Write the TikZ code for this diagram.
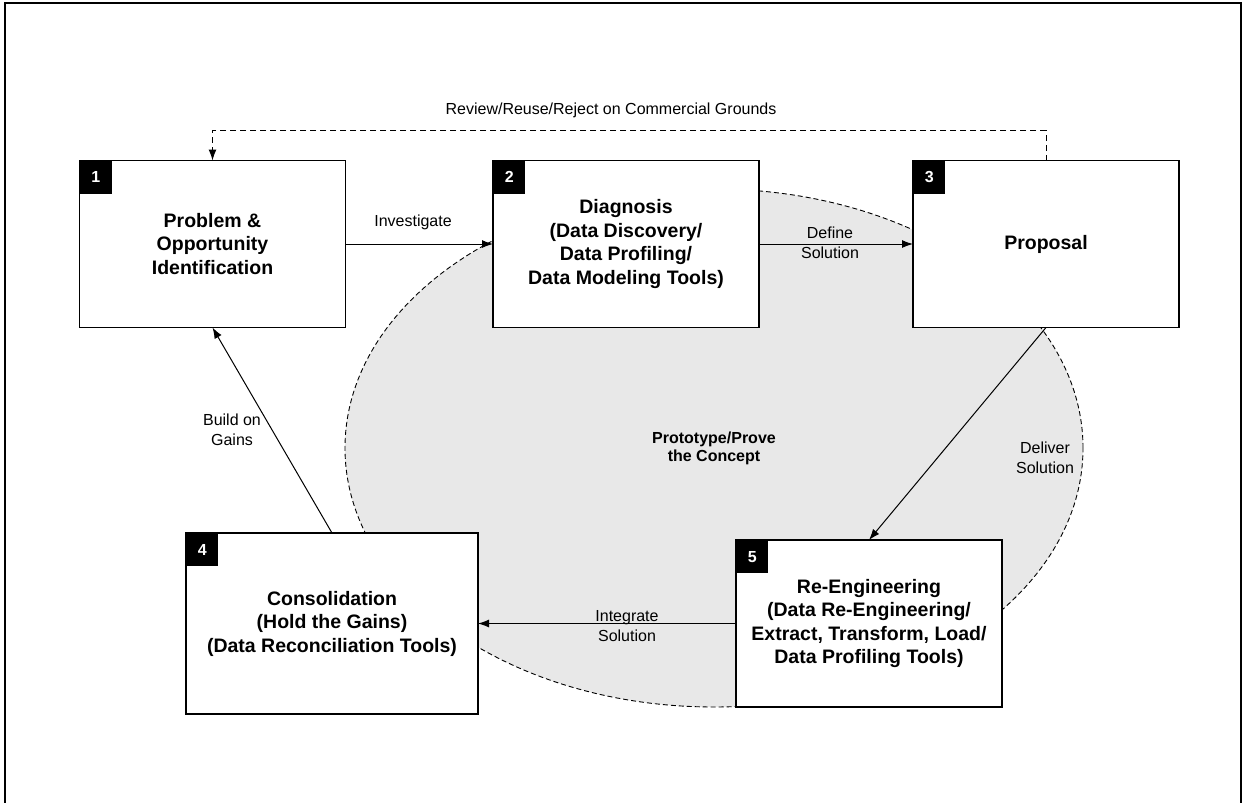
\documentclass[tikz,border=0pt]{standalone}
\usepackage{fontspec}
\setmainfont{Liberation Sans}
\usetikzlibrary{shapes.geometric,arrows.meta}
\definecolor{protogray}{RGB}{232,232,232}

\begin{document}
\begin{tikzpicture}[x=1pt,y=-1pt,
  stagebox/.style={draw, line width=1.3pt, fill=white, outer sep=0pt, inner sep=0pt,
    minimum width=266pt, minimum height=167pt, align=center,
    font=\bfseries\fontsize{19.5}{23.5}\selectfont},
  numbox/.style={fill=black, text=white, anchor=north west, inner sep=0pt,
    minimum width=32pt, minimum height=33pt, font=\bfseries\fontsize{16}{16}\selectfont},
  lbl/.style={align=center, font=\fontsize{16}{20}\selectfont},
  flow/.style={line width=1pt, -{Latex[length=11pt,width=8pt]}},
  proto/.style={ellipse, draw, dashed, dash pattern=on 5pt off 3pt, line width=0.9pt,
    fill=protogray, inner sep=0pt, minimum width=738pt, minimum height=518pt,
    align=center, font=\bfseries\fontsize{16}{18}\selectfont}]
\useasboundingbox (0,0) rectangle (1245,803);
%-------->frame<--------------
\draw[line width=2.6pt] (5,806) -- (5,3) -- (1241,3) -- (1241,806);
%-------->prototype area<--------------
\node[proto] (proto) at (714,448) {Prototype/Prove\\the Concept};
%-------->stages<--------------
\node[stagebox] (prob) at (212.5,244) {Problem \&\\Opportunity\\Identification}; % 1
\node[stagebox] (diag) at (626,244) {Diagnosis\\(Data Discovery/\\Data Profiling/\\Data Modeling Tools)}; % 2
\node[stagebox] (prop) at (1046,244) {Proposal}; % 3
\node[stagebox, minimum width=292pt, minimum height=181pt] (cons) at (332,623.5) {Consolidation\\(Hold the Gains)\\(Data Reconciliation Tools)}; % 4
\node[stagebox] (reeng) at (869,623.5) {Re-Engineering\\(Data Re-Engineering/\\Extract, Transform, Load/\\Data Profiling Tools)}; % 5
%-------->numbers<--------------
\node[numbox] (n1) at (prob.north west) {1};
\node[numbox] (n2) at (diag.north west) {2};
\node[numbox] (n3) at (prop.north west) {3};
\node[numbox] (n4) at (cons.north west) {4};
\node[numbox] (n5) at (reeng.north west) {5};
%-------->arrows<--------------
\draw[flow] (prob.east) -- (diag.west);
\draw[flow] (diag.east) -- (prop.west);
\draw[flow] (prop.south) -- (reeng.north);
\draw[flow] (reeng.west) -- (cons.east);
\draw[flow] (cons.north) -- (prob.south);
\draw[flow, dashed, dash pattern=on 6pt off 4pt] (prop.north) -- ++(0,-30) -| (prob.north);
%-------->labels<--------------
\node[lbl] (l-inv) at (413,222) {Investigate};
\node[lbl] (l-def) at (830,243) {Define\\Solution};
\node[lbl] (l-del) at (1045,458) {Deliver\\Solution};
\node[lbl] (l-int) at (627,626) {Integrate\\Solution};
\node[lbl] (l-bld) at (232,430) {Build on\\Gains};
\node[lbl] (l-rev) at (611,110) {Review/Reuse/Reject on Commercial Grounds};
\end{tikzpicture}
\end{document}
